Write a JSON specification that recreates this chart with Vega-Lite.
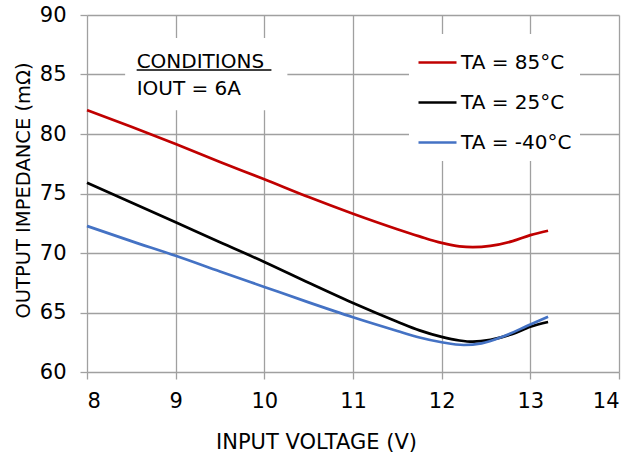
{
  "$schema": "https://vega.github.io/schema/vega-lite/v6.json",
  "width": 532,
  "height": 357,
  "autosize": "none",
  "padding": {"left": 87, "top": 15, "right": 15, "bottom": 88},
  "background": "white",
  "config": {
    "view": {"stroke": null},
    "font": "DejaVu Sans",
    "axis": {
      "gridColor": "#a0a0a0", "gridWidth": 1.3, "gridOpacity": 1,
      "domain": false, "tickColor": "#a0a0a0", "tickWidth": 1.3, "tickSize": 7,
      "labelFont": "DejaVu Sans", "labelFontSize": 21, "labelColor": "#000",
      "titleFont": "DejaVu Sans", "titleFontWeight": "normal", "titleColor": "#000"
    }
  },
  "datasets": {
    "curves": [
      {"v": 8.0, "z": 82.0, "s": "TA = 85°C"},
      {"v": 8.5, "z": 80.6, "s": "TA = 85°C"},
      {"v": 9.0, "z": 79.16, "s": "TA = 85°C"},
      {"v": 9.5, "z": 77.65, "s": "TA = 85°C"},
      {"v": 10.0, "z": 76.2, "s": "TA = 85°C"},
      {"v": 10.5, "z": 74.7, "s": "TA = 85°C"},
      {"v": 11.0, "z": 73.3, "s": "TA = 85°C"},
      {"v": 11.5, "z": 72.0, "s": "TA = 85°C"},
      {"v": 11.75, "z": 71.4, "s": "TA = 85°C"},
      {"v": 12.0, "z": 70.85, "s": "TA = 85°C"},
      {"v": 12.2, "z": 70.56, "s": "TA = 85°C"},
      {"v": 12.35, "z": 70.5, "s": "TA = 85°C"},
      {"v": 12.55, "z": 70.6, "s": "TA = 85°C"},
      {"v": 12.8, "z": 71.0, "s": "TA = 85°C"},
      {"v": 13.0, "z": 71.5, "s": "TA = 85°C"},
      {"v": 13.2, "z": 71.87, "s": "TA = 85°C"},
      {"v": 8.0, "z": 75.9, "s": "TA = 25°C"},
      {"v": 8.5, "z": 74.25, "s": "TA = 25°C"},
      {"v": 9.0, "z": 72.58, "s": "TA = 25°C"},
      {"v": 9.5, "z": 70.9, "s": "TA = 25°C"},
      {"v": 10.0, "z": 69.25, "s": "TA = 25°C"},
      {"v": 10.5, "z": 67.5, "s": "TA = 25°C"},
      {"v": 11.0, "z": 65.8, "s": "TA = 25°C"},
      {"v": 11.5, "z": 64.23, "s": "TA = 25°C"},
      {"v": 11.75, "z": 63.5, "s": "TA = 25°C"},
      {"v": 12.0, "z": 62.95, "s": "TA = 25°C"},
      {"v": 12.2, "z": 62.65, "s": "TA = 25°C"},
      {"v": 12.35, "z": 62.55, "s": "TA = 25°C"},
      {"v": 12.55, "z": 62.7, "s": "TA = 25°C"},
      {"v": 12.8, "z": 63.2, "s": "TA = 25°C"},
      {"v": 13.0, "z": 63.8, "s": "TA = 25°C"},
      {"v": 13.2, "z": 64.2, "s": "TA = 25°C"},
      {"v": 8.0, "z": 72.27, "s": "TA = -40°C"},
      {"v": 8.5, "z": 71.0, "s": "TA = -40°C"},
      {"v": 9.0, "z": 69.77, "s": "TA = -40°C"},
      {"v": 9.5, "z": 68.45, "s": "TA = -40°C"},
      {"v": 10.0, "z": 67.15, "s": "TA = -40°C"},
      {"v": 10.5, "z": 65.85, "s": "TA = -40°C"},
      {"v": 11.0, "z": 64.6, "s": "TA = -40°C"},
      {"v": 11.5, "z": 63.45, "s": "TA = -40°C"},
      {"v": 11.75, "z": 62.9, "s": "TA = -40°C"},
      {"v": 12.0, "z": 62.5, "s": "TA = -40°C"},
      {"v": 12.25, "z": 62.27, "s": "TA = -40°C"},
      {"v": 12.45, "z": 62.4, "s": "TA = -40°C"},
      {"v": 12.7, "z": 63.0, "s": "TA = -40°C"},
      {"v": 13.0, "z": 64.0, "s": "TA = -40°C"},
      {"v": 13.2, "z": 64.65, "s": "TA = -40°C"}
    ],
    "box": [{"x1": 8.43, "x2": 10.26, "y1": 82.0, "y2": 88.07}],
    "notes": [
      {"x": 8.56, "y": 85.55, "t": "CONDITIONS"},
      {"x": 8.56, "y": 83.25, "t": "IOUT = 6A"}
    ],
    "underline": [{"x1": 8.56, "x2": 10.08, "y": 85.38}]
  },
  "layer": [
    {
      "data": {"name": "box"},
      "mark": {"type": "rect", "fill": "white", "stroke": null},
      "encoding": {
        "x": {"field": "x1", "type": "quantitative", "scale": {"domain": [8, 14]},
              "axis": {"title": "INPUT VOLTAGE (V)", "titleFontSize": 21, "values": [8, 9, 10, 11, 12, 13, 14], "format": "d", "labelPadding": 11, "titlePadding": 20, "titleX": 229}},
        "x2": {"field": "x2"},
        "y": {"field": "y1", "type": "quantitative", "scale": {"domain": [60, 90]},
              "axis": {"title": "OUTPUT IMPEDANCE (mΩ)", "titleFontSize": 19.5, "values": [60, 65, 70, 75, 80, 85, 90], "labelPadding": 14, "titlePadding": 6, "titleY": 175}},
        "y2": {"field": "y2"}
      }
    },
    {
      "data": {"name": "curves"},
      "mark": {"type": "line", "strokeWidth": 2.7, "interpolate": "monotone"},
      "encoding": {
        "x": {"field": "v", "type": "quantitative"},
        "y": {"field": "z", "type": "quantitative"},
        "color": {
          "field": "s", "type": "nominal",
          "scale": {"domain": ["TA = 85°C", "TA = 25°C", "TA = -40°C"], "range": ["#c00000", "#000000", "#4472c4"]},
          "legend": {
            "title": null, "orient": "none", "legendX": 322, "legendY": 19,
            "fillColor": "white", "padding": 8, "symbolType": "stroke", "symbolSize": 1444,
            "symbolStrokeWidth": 2.7, "labelFontSize": 20, "labelFont": "DejaVu Sans", "labelColor": "#000",
            "labelOffset": 3, "rowPadding": 9, "labelLimit": 300
          }
        }
      }
    },
    {
      "data": {"name": "notes"},
      "mark": {"type": "text", "align": "left", "baseline": "alphabetic", "fontSize": 20, "font": "DejaVu Sans", "color": "#000"},
      "encoding": {
        "x": {"field": "x", "type": "quantitative"},
        "y": {"field": "y", "type": "quantitative"},
        "text": {"field": "t"}
      }
    },
    {
      "data": {"name": "underline"},
      "mark": {"type": "rule", "color": "#000", "strokeWidth": 1.3},
      "encoding": {
        "x": {"field": "x1", "type": "quantitative"},
        "x2": {"field": "x2"},
        "y": {"field": "y", "type": "quantitative"}
      }
    }
  ]
}
